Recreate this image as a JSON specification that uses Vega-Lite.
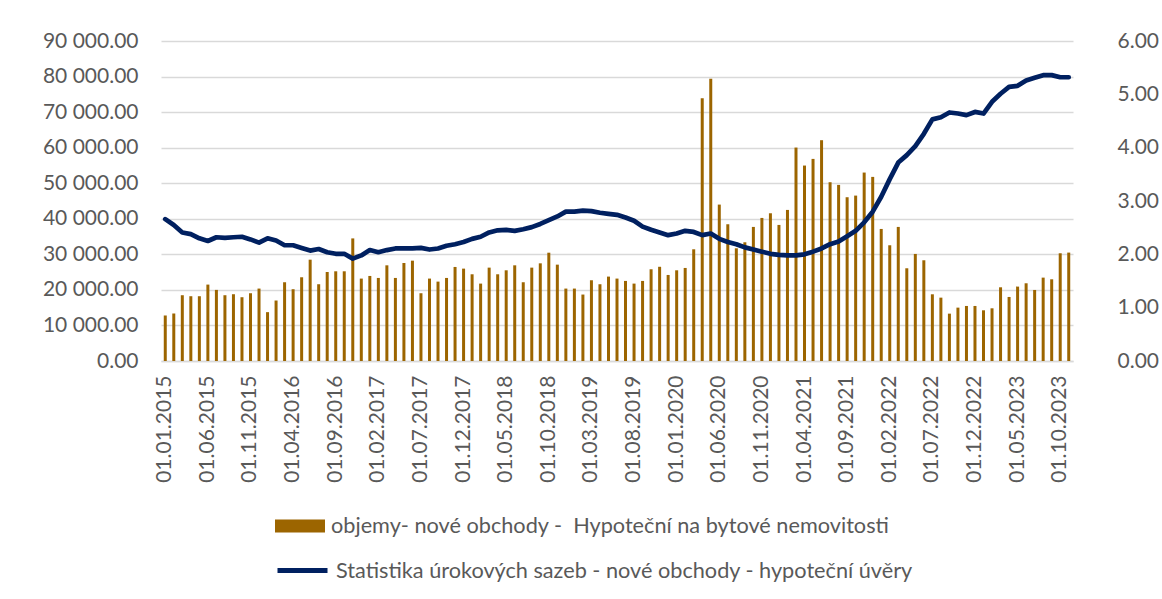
{
 "$schema": "https://vega.github.io/schema/vega-lite/v6.json",
 "width": 912,
 "height": 320,
 "autosize": {"type": "none"},
 "padding": {"left": 161, "top": 41, "right": 89, "bottom": 238},
 "background": "white",
 "config": {
  "view": {"stroke": null},
  "font": "Lato",
  "axis": {"labelFont": "Lato", "labelFontSize": 21, "labelColor": "#595959", "ticks": false, "domain": false, "title": null, "grid": false},
  "legend": {"labelFont": "Lato", "labelFontSize": 21.7, "labelColor": "#595959", "title": null, "labelLimit": 0}
 },
 "data": {"values": [
  {"d":"01.01.2015","v":12800,"r":2.66},{"d":"01.02.2015","v":13360,"r":2.55},{"d":"01.03.2015","v":18500,"r":2.41},{"d":"01.04.2015","v":18220,"r":2.38},{"d":"01.05.2015","v":18220,"r":2.30},{"d":"01.06.2015","v":21490,"r":2.25},{"d":"01.07.2015","v":20000,"r":2.32},{"d":"01.08.2015","v":18500,"r":2.31},{"d":"01.09.2015","v":18780,"r":2.32},{"d":"01.10.2015","v":17940,"r":2.33},{"d":"01.11.2015","v":19060,"r":2.28},{"d":"01.12.2015","v":20370,"r":2.22},
  {"d":"01.01.2016","v":13740,"r":2.30},{"d":"01.02.2016","v":17010,"r":2.26},{"d":"01.03.2016","v":22150,"r":2.17},{"d":"01.04.2016","v":20190,"r":2.17},{"d":"01.05.2016","v":23550,"r":2.12},{"d":"01.06.2016","v":28500,"r":2.07},{"d":"01.07.2016","v":21590,"r":2.10},{"d":"01.08.2016","v":25040,"r":2.04},{"d":"01.09.2016","v":25230,"r":2.01},{"d":"01.10.2016","v":25230,"r":2.01},{"d":"01.11.2016","v":34480,"r":1.92},{"d":"01.12.2016","v":23180,"r":1.98},
  {"d":"01.01.2017","v":23920,"r":2.08},{"d":"01.02.2017","v":23360,"r":2.04},{"d":"01.03.2017","v":26910,"r":2.08},{"d":"01.04.2017","v":23360,"r":2.11},{"d":"01.05.2017","v":27570,"r":2.11},{"d":"01.06.2017","v":28220,"r":2.11},{"d":"01.07.2017","v":19060,"r":2.12},{"d":"01.08.2017","v":23180,"r":2.09},{"d":"01.09.2017","v":22330,"r":2.11},{"d":"01.10.2017","v":23360,"r":2.16},{"d":"01.11.2017","v":26450,"r":2.19},{"d":"01.12.2017","v":25980,"r":2.23},
  {"d":"01.01.2018","v":24390,"r":2.29},{"d":"01.02.2018","v":21770,"r":2.33},{"d":"01.03.2018","v":26260,"r":2.41},{"d":"01.04.2018","v":24390,"r":2.45},{"d":"01.05.2018","v":25510,"r":2.46},{"d":"01.06.2018","v":26910,"r":2.44},{"d":"01.07.2018","v":22150,"r":2.47},{"d":"01.08.2018","v":26260,"r":2.51},{"d":"01.09.2018","v":27470,"r":2.57},{"d":"01.10.2018","v":30460,"r":2.64},{"d":"01.11.2018","v":27100,"r":2.71},{"d":"01.12.2018","v":20370,"r":2.80},
  {"d":"01.01.2019","v":20370,"r":2.80},{"d":"01.02.2019","v":18690,"r":2.82},{"d":"01.03.2019","v":22710,"r":2.81},{"d":"01.04.2019","v":21590,"r":2.78},{"d":"01.05.2019","v":23740,"r":2.76},{"d":"01.06.2019","v":23180,"r":2.74},{"d":"01.07.2019","v":22520,"r":2.69},{"d":"01.08.2019","v":21770,"r":2.63},{"d":"01.09.2019","v":22520,"r":2.52},{"d":"01.10.2019","v":25800,"r":2.46},{"d":"01.11.2019","v":26500,"r":2.41},{"d":"01.12.2019","v":24200,"r":2.36},
  {"d":"01.01.2020","v":25510,"r":2.39},{"d":"01.02.2020","v":26170,"r":2.44},{"d":"01.03.2020","v":31420,"r":2.42},{"d":"01.04.2020","v":73910,"r":2.36},{"d":"01.05.2020","v":79350,"r":2.39},{"d":"01.06.2020","v":43990,"r":2.29},{"d":"01.07.2020","v":38460,"r":2.23},{"d":"01.08.2020","v":31700,"r":2.19},{"d":"01.09.2020","v":33390,"r":2.13},{"d":"01.10.2020","v":37710,"r":2.09},{"d":"01.11.2020","v":40240,"r":2.05},{"d":"01.12.2020","v":41550,"r":2.01},
  {"d":"01.01.2021","v":38270,"r":1.99},{"d":"01.02.2021","v":42490,"r":1.98},{"d":"01.03.2021","v":60030,"r":1.98},{"d":"01.04.2021","v":54970,"r":2.00},{"d":"01.05.2021","v":56840,"r":2.05},{"d":"01.06.2021","v":62100,"r":2.11},{"d":"01.07.2021","v":50280,"r":2.19},{"d":"01.08.2021","v":49530,"r":2.24},{"d":"01.09.2021","v":46060,"r":2.34},{"d":"01.10.2021","v":46520,"r":2.44},{"d":"01.11.2021","v":53000,"r":2.60},{"d":"01.12.2021","v":51780,"r":2.80},
  {"d":"01.01.2022","v":37140,"r":3.08},{"d":"01.02.2022","v":32550,"r":3.41},{"d":"01.03.2022","v":37710,"r":3.72},{"d":"01.04.2022","v":26080,"r":3.86},{"d":"01.05.2022","v":30110,"r":4.03},{"d":"01.06.2022","v":28330,"r":4.26},{"d":"01.07.2022","v":18760,"r":4.53},{"d":"01.08.2022","v":17820,"r":4.57},{"d":"01.09.2022","v":13320,"r":4.66},{"d":"01.10.2022","v":15010,"r":4.64},{"d":"01.11.2022","v":15480,"r":4.61},{"d":"01.12.2022","v":15480,"r":4.67},
  {"d":"01.01.2023","v":14260,"r":4.64},{"d":"01.02.2023","v":14820,"r":4.86},{"d":"01.03.2023","v":20730,"r":5.01},{"d":"01.04.2023","v":18010,"r":5.14},{"d":"01.05.2023","v":20920,"r":5.16},{"d":"01.06.2023","v":21860,"r":5.26},{"d":"01.07.2023","v":19980,"r":5.31},{"d":"01.08.2023","v":23450,"r":5.36},{"d":"01.09.2023","v":22980,"r":5.36},{"d":"01.10.2023","v":30300,"r":5.32},{"d":"01.11.2023","v":30490,"r":5.32}
 ]},
 "encoding": {
  "x": {"field": "d", "type": "ordinal", "sort": null,
   "scale": {"paddingInner": 0, "paddingOuter": 0},
   "axis": {"values": ["01.01.2015","01.06.2015","01.11.2015","01.04.2016","01.09.2016","01.02.2017","01.07.2017","01.12.2017","01.05.2018","01.10.2018","01.03.2019","01.08.2019","01.01.2020","01.06.2020","01.11.2020","01.04.2021","01.09.2021","01.02.2022","01.07.2022","01.12.2022","01.05.2023","01.10.2023"],
    "labelAngle": -90, "labelPadding": 14, "labelOverlap": false, "domain": true, "domainColor": "#d9d9d9", "domainWidth": 1.5}}
 },
 "layer": [
  {"mark": {"type": "bar", "width": 3},
   "encoding": {
    "y": {"field": "v", "type": "quantitative", "scale": {"domain": [0, 90000]},
     "axis": {"orient": "left", "values": [0,10000,20000,30000,40000,50000,60000,70000,80000,90000], "labelExpr": "replace(format(datum.value, ',.2f'), ',', ' ')", "labelPadding": 23, "grid": true, "gridColor": "#d9d9d9", "gridWidth": 1.5}},
    "fill": {"datum": "objemy- nové obchody - \u00a0Hypoteční na bytové nemovitosti", "scale": {"range": ["#9C6500"]},
     "legend": {"orient": "none", "legendX": 114, "legendY": 460, "symbolType": "M-1,-0.26H1V0.26H-1Z", "symbolSize": 2500, "symbolStrokeWidth": 0, "labelOffset": 6, "labelLimit": 0}}
   }},
  {"mark": {"type": "line", "strokeWidth": 4.7, "strokeJoin": "round", "strokeCap": "round"},
   "encoding": {
    "y": {"field": "r", "type": "quantitative", "scale": {"domain": [0, 6]},
     "axis": {"orient": "right", "values": [0,1,2,3,4,5,6], "format": ".2f", "labelPadding": 44}},
    "stroke": {"datum": "Statistika úrokových sazeb - nové obchody - hypoteční úvěry", "scale": {"range": ["#002060"]},
     "legend": {"orient": "none", "legendX": 114, "legendY": 502, "symbolType": "M-1,0H1", "symbolSize": 2500, "symbolStrokeWidth": 5, "labelOffset": 6, "labelLimit": 0}}
   }}
 ],
 "resolve": {"scale": {"y": "independent"}}
}
